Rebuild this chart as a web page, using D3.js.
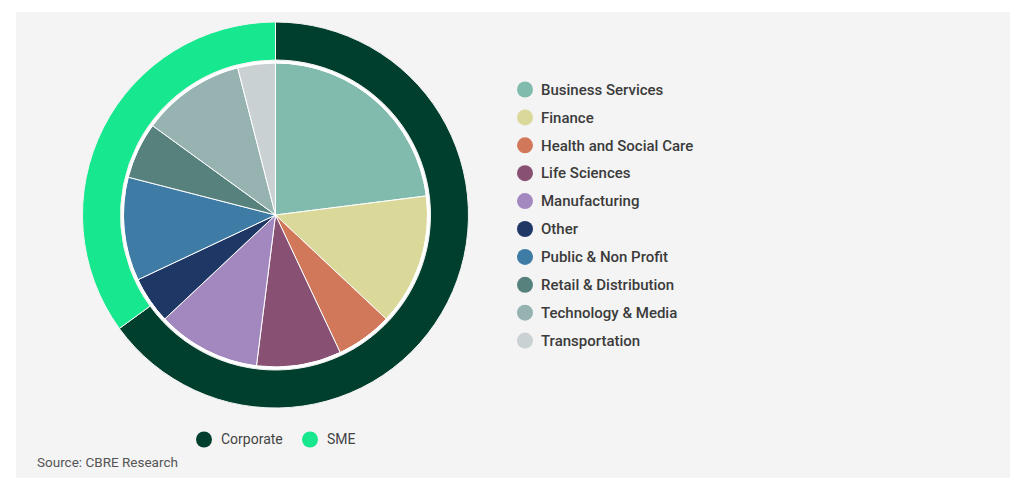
<!DOCTYPE html>
<html>
<head>
<meta charset="utf-8">
<script src="https://cdn.jsdelivr.net/npm/d3@7"></script>
<style>
  body { margin: 0; background: #fff; }
  text { font-family: Roboto, "Noto Sans", sans-serif; }
</style>
</head>
<body>
<div id="chart"></div>
<script>
// sector shares (inner pie), % of total
var sectors = ["Business Services", "Finance", "Health and Social Care", "Life Sciences",
  "Manufacturing", "Other", "Public & Non Profit", "Retail & Distribution",
  "Technology & Media", "Transportation"];
var sectorValues = [23, 14, 6, 9, 11, 5, 11, 6, 11, 4];
var sectorColors = ["#80bbad", "#dbd99a", "#d2785a", "#885073", "#a388bf",
  "#1f3765", "#3e7ca6", "#56817d", "#96b3b2", "#cad1d3"];

// company size (outer ring)
var sizes = ["Corporate", "SME"];
var sizeValues = [65, 35];
var sizeColors = ["#003f2d", "#17e88f"];

var W = 1024, H = 488;
var svg = d3.select("#chart").append("svg")
    .attr("width", W)
    .attr("height", H);

svg.append("rect")
    .attr("x", 16).attr("y", 12)
    .attr("width", 994).attr("height", 466)
    .attr("fill", "#f4f4f4");

var g = svg.append("g")
    .attr("transform", "translate(275.5,215)");

var pie = d3.pie().sort(null).value(function(d) { return d; });

// outer ring
var ringArc = d3.arc().innerRadius(155).outerRadius(193);
g.selectAll("path.ring")
  .data(pie(sizeValues))
  .enter()
  .append("path")
    .attr("class", "ring")
    .attr("d", ringArc)
    .attr("fill", function(d, i) { return sizeColors[i]; })
    .attr("stroke", "#f4f4f4")
    .attr("stroke-width", 1);

// inner pie
var pieArc = d3.arc().innerRadius(0).outerRadius(152);
g.selectAll("path.slice")
  .data(pie(sectorValues))
  .enter()
  .append("path")
    .attr("class", "slice")
    .attr("d", pieArc)
    .attr("fill", function(d, i) { return sectorColors[i]; })
    .attr("stroke", "#ffffff")
    .attr("stroke-width", 1);

g.append("circle")
    .attr("r", 153)
    .attr("fill", "none")
    .attr("stroke", "#ffffff")
    .attr("stroke-width", 2.5);

// sector legend
var leg = svg.append("g").attr("transform", "translate(525,89.5)");
var item = leg.selectAll("g")
  .data(sectors)
  .enter()
  .append("g")
    .attr("transform", function(d, i) { return "translate(0," + (i * 27.9) + ")"; });
item.append("circle")
    .attr("r", 8)
    .attr("fill", function(d, i) { return sectorColors[i]; });
item.append("text")
    .attr("x", 16)
    .attr("dy", "0.35em")
    .attr("font-size", 15)
    .attr("font-weight", 500)
    .attr("fill", "#3b3b3b")
    .text(function(d) { return d; });

// size legend
var sizeX = [204, 310];
var leg2 = svg.append("g").attr("transform", "translate(0,439.5)");
var item2 = leg2.selectAll("g")
  .data(sizes)
  .enter()
  .append("g")
    .attr("transform", function(d, i) { return "translate(" + sizeX[i] + ",0)"; });
item2.append("circle")
    .attr("r", 8)
    .attr("fill", function(d, i) { return sizeColors[i]; });
item2.append("text")
    .attr("x", 17)
    .attr("dy", "0.35em")
    .attr("font-size", 14)
    .attr("fill", "#444")
    .text(function(d) { return d; });

svg.append("text")
    .attr("x", 37)
    .attr("y", 467)
    .attr("font-size", 13.5)
    .attr("fill", "#555")
    .text("Source: CBRE Research");
</script>
</body>
</html>
